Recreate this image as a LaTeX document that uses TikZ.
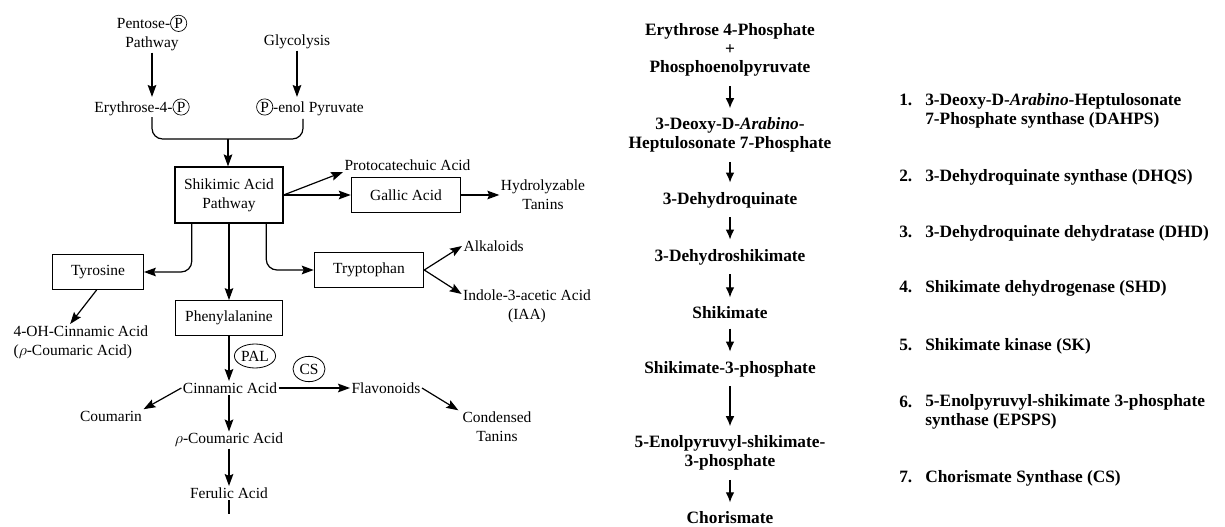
\documentclass[tikz,border=0pt]{standalone}
\usepackage{fontspec}
\setmainfont{Liberation Serif}
\usetikzlibrary{arrows.meta,shapes.geometric,positioning}

% circled phosphate
\newcommand{\phos}{\tikz[baseline=(p.base)]\node[draw,circle,inner sep=0.8pt,line width=0.5pt](p){P};}

\tikzset{
  txt/.style={inner sep=1pt, align=center, font=\fontsize{11.6}{14.5}\selectfont},
  box/.style={txt, draw, line width=0.9pt, minimum height=26pt, inner sep=3pt},
  enzyme/.style={txt, draw, ellipse, line width=0.6pt, inner sep=0.5pt},
  arr/.style={-{Stealth[length=9pt,width=6.5pt,inset=1.5pt]}, line width=0.9pt},
  stepnode/.style={inner sep=1pt, align=center, font=\bfseries\fontsize{13}{14}\selectfont},
  steparr/.style={-{Latex[length=7.5pt,width=6.5pt]}, line width=0.9pt, shorten <=6pt, shorten >=6pt},
  enzname/.style={inner sep=0pt, align=left, font=\bfseries\fontsize{13}{14.3}\selectfont}
}

\begin{document}
\begin{tikzpicture}[x=0.75pt,y=-0.75pt]
  \useasboundingbox (0,0) rectangle (1225,527);

  % precursors
  \node[txt] (pent) at (152,33) {Pentose-\phos\\Pathway};
  \node[txt] (glyc) at (297,42) {Glycolysis};
  \node[txt] (ery) at (142,107) {Erythrose-4-\phos};
  \node[txt] (pep) at (310,107) {\phos-enol Pyruvate};
  \draw[arr] (pent.south) -- (pent.south |- ery.north);
  \draw[arr] (glyc.south) -- (glyc.south |- pep.north);

  % both feed the shikimic acid pathway
  \node[box, minimum width=81pt, minimum height=42pt] (shik) at (229,195) {Shikimic Acid\\Pathway};
  \coordinate (jn) at (228,139);
  \coordinate (pepdn) at (303,119);
  \draw[line width=0.9pt, rounded corners=8pt] (pent.south |- ery.south) |- (jn) -| (pepdn);
  \draw[arr] (jn) -- (jn |- shik.north);

  % gallic acid branch
  \node[txt, anchor=west] (proto) at (343,165) {Protocatechuic Acid};
  \node[box, minimum width=82pt] (gall) at (406,195) {Gallic Acid};
  \node[txt] (hydro) at (543,195) {Hydrolyzable\\Tanins};
  \draw[arr] (shik.east) -- (proto.south west);
  \draw[arr] (shik.east) -- (gall.west);
  \draw[arr] (gall.east) -- (hydro.west);

  % aromatic amino acids
  \node[box, minimum width=82pt] (tryp) at (369,270) {Tryptophan};
  \node[box, minimum width=68pt] (tyr) at (98,272) {Tyrosine};
  \node[box, minimum width=80pt] (phe) at (229,318) {Phenylalanine};
  \draw[arr, rounded corners=8pt] ([xshift=-13pt]shik.south east) |- (tryp.west);
  \draw[arr, rounded corners=8pt] ([xshift=13pt]shik.south west) |- (tyr.east);
  \draw[arr] (shik.south) -- (phe.north);

  \node[txt, anchor=west] (alk) at (462,246) {Alkaloids};
  \node[txt] (iaa) at (527,306) {Indole-3-acetic Acid\\(IAA)};
  \draw[arr] (tryp.east) -- (alk.west);
  \draw[arr] (tryp.east) -- ([yshift=9pt]iaa.west);

  \node[txt, align=left, anchor=north west] (ohc) at (12,324) {4-OH-Cinnamic Acid\\($\rho$-Coumaric Acid)};
  \draw[arr] ([xshift=-1pt]tyr.south) -- ([xshift=-8pt]ohc.north);

  % phenylpropanoids
  \node[txt] (cin) at (230,388) {Cinnamic Acid};
  \node[enzyme, minimum width=27pt, minimum height=18pt] (pal) at (255,356) {PAL};
  \draw[arr] (phe.south) -- (phe.south |- cin.north);

  \node[txt] (coum) at (111,416) {Coumarin};
  \node[txt] (pcou) at (229,440) {$\rho$-Coumaric Acid};
  \node[txt] (fer) at (229,493) {Ferulic Acid};
  \coordinate (ferdn) at (229,514);
  \draw[arr] (cin.west) -- (coum.north east);
  \draw[arr] (cin.south -| pcou.north) -- (pcou.north);
  \draw[arr] (pcou.south) -- (fer.north);
  \draw[line width=0.9pt] (fer.south) -- (ferdn);

  \node[txt, anchor=west] (flav) at (350,388) {Flavonoids};
  \node[enzyme, minimum width=24pt, minimum height=19pt] (cs) at (309,369) {CS};
  \node[txt] (cond) at (497,427) {Condensed\\Tanins};
  \draw[arr] (cin.east) -- (flav.west);
  \draw[arr] (flav.east) -- ([xshift=-2pt]cond.north west);

  % shikimate pathway steps
  \node[stepnode] (s0) at (730,50) {Erythrose 4-Phosphate\\+\\Phosphoenolpyruvate};
  \node[stepnode] (s1) at (730,135) {3-Deoxy-D-\textit{Arabino}-\\Heptulosonate 7-Phosphate};
  \node[stepnode] (s2) at (730,200) {3-Dehydroquinate};
  \node[stepnode] (s3) at (730,257) {3-Dehydroshikimate};
  \node[stepnode] (s4) at (730,313) {Shikimate};
  \node[stepnode] (s5) at (730,369) {Shikimate-3-phosphate};
  \node[stepnode] (s6) at (730,453) {5-Enolpyruvyl-shikimate-\\3-phosphate};
  \node[stepnode] (s7) at (730,518) {Chorismate};
  \foreach \a/\b in {s0/s1,s1/s2,s2/s3,s3/s4,s4/s5,s5/s6,s6/s7}
    \draw[steparr] (\a.south) -- (\b.north);

  % enzymes: number baseline, last-line baseline, name
  \foreach \n/\y/\z/\t in {1/106/125/{3-Deoxy-D-\textit{Arabino}-Heptulosonate\\7-Phosphate synthase (DAHPS)},
                           2/182/182/{3-Dehydroquinate synthase (DHQS)},
                           3/238/238/{3-Dehydroquinate dehydratase (DHD)},
                           4/293/293/{Shikimate dehydrogenase (SHD)},
                           5/350/350/{Shikimate kinase (SK)},
                           6/407/426/{5-Enolpyruvyl-shikimate 3-phosphate\\synthase (EPSPS)},
                           7/482/482/{Chorismate Synthase (CS)}}
  {
    \node[enzname, anchor=base west] (num\n) at (899,\y) {\n.};
    \node[enzname, anchor=base west] (enz\n) at (925,\z) {\t};
  }
\end{tikzpicture}
\end{document}
